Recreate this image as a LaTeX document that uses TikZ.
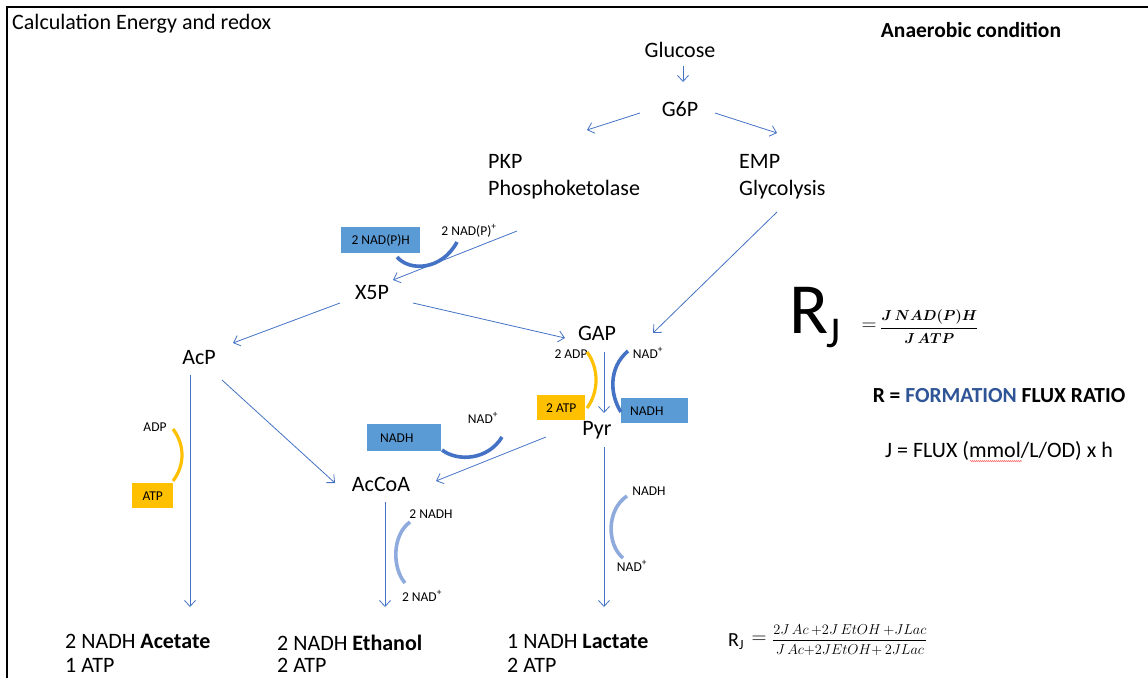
\documentclass[tikz,border=0pt]{standalone}
\usepackage{fontspec}
\setmainfont{Carlito}
\usepackage{amsmath}
\usetikzlibrary{arrows.meta,decorations.pathmorphing}
\definecolor{arrowblue}{HTML}{4472C4}
\definecolor{boxblue}{HTML}{5B9BD5}
\definecolor{arcdark}{HTML}{4472C4}
\definecolor{arclight}{HTML}{8FAADC}
\definecolor{yel}{HTML}{FFC000}
\definecolor{formblue}{HTML}{2F5597}
\begin{document}
\begin{tikzpicture}[x=1pt,y=-1pt,
  lbl/.style={font=\fontsize{22}{26}\selectfont, inner sep=0pt, anchor=base},
  sm/.style={font=\fontsize{13.5}{16}\selectfont, inner sep=0pt, anchor=base},
  arr/.style={draw=arrowblue, line width=0.8pt, -{Straight Barb[length=6pt,width=11pt,line width=0.8pt]}},
  bluebox/.style={fill=boxblue, inner ysep=0pt, anchor=north west, font=\fontsize{13.5}{16}\selectfont},
  yelbox/.style={fill=yel, inner ysep=0pt, anchor=north west, font=\fontsize{13.5}{16}\selectfont},
  darc/.style={draw=arcdark, line width=3.6pt},
  larc/.style={draw=arclight, line width=3.6pt},
  yarc/.style={draw=yel, line width=3.2pt},
  boldtxt/.style={font=\bfseries\fontsize{21.5}{25}\selectfont, inner sep=0pt, anchor=base},
  plain/.style={font=\fontsize{22}{25}\selectfont, inner sep=0pt, anchor=base}
]
\useasboundingbox (0,0) rectangle (1148,678);
\draw[line width=2pt] (7,678) -- (7,7) -- (1149,7);

% headings
\node[lbl, anchor=base west] (title) at (12,29) {Calculation Energy and redox};
\node[boldtxt] (anaer) at (971,37) {Anaerobic condition};

% metabolites
\node[lbl] (glucose) at (680,57) {Glucose};
\node[lbl] (g6p) at (680,116) {G6P};
\node[lbl, anchor=base west] (pkp) at (488,168) {PKP};
\node[lbl, anchor=base west] (pkp2) at (488,195) {Phosphoketolase};
\node[lbl, anchor=base west] (emp) at (739,168) {EMP};
\node[lbl, anchor=base west] (emp2) at (739,195) {Glycolysis};
\node[lbl] (x5p) at (372,299) {X5P};
\node[lbl] (gap) at (597,340) {GAP};
\node[lbl] (acp) at (199,364) {AcP};
\node[lbl] (pyr) at (597,435) {Pyr};
\node[lbl] (accoa) at (381,491) {AcCoA};

% products
\node[lbl, anchor=base west] (ac) at (65,648) {2 NADH \textbf{Acetate}};
\node[lbl, anchor=base west] (ac2) at (65,672) {1 ATP};
\node[lbl, anchor=base west] (etoh) at (277,650) {2 NADH \textbf{Ethanol}};
\node[lbl, anchor=base west] (etoh2) at (277,672) {2 ATP};
\node[lbl, anchor=base west] (lac) at (507,648) {1 NADH \textbf{Lactate}};
\node[lbl, anchor=base west] (lac2) at (507,672) {2 ATP};

% arrow end points
\coordinate (a1s) at (683,66);  \coordinate (a1e) at (683,82);
\coordinate (a2s) at (640,113); \coordinate (a2e) at (587,130);
\coordinate (a3s) at (715,113); \coordinate (a3e) at (777,133);
\coordinate (a4s) at (517,231); \coordinate (a4e) at (393,280);
\coordinate (a5s) at (777,212); \coordinate (a5e) at (653,333);
\coordinate (a6s) at (340,303); \coordinate (a6e) at (233,343);
\coordinate (a7s) at (413,303); \coordinate (a7e) at (565,338);
\coordinate (a8s) at (190,375); \coordinate (a8e) at (190,607);
\coordinate (a9s) at (222,380); \coordinate (a9e) at (335,483);
\coordinate (a10s) at (604,352); \coordinate (a10e) at (604,413);
\coordinate (a11s) at (546,437); \coordinate (a11e) at (436,481);
\coordinate (a12s) at (385,502); \coordinate (a12e) at (385,607);
\coordinate (a13s) at (604,447); \coordinate (a13e) at (604,607);
\foreach \i in {1,...,13} {\draw[arr] (a\i s) -- (a\i e);}

% cofactor boxes
\node[bluebox, minimum width=79pt, minimum height=26pt] (nadph) at (341,227) {2 NAD(P)H};
\node[yelbox, minimum width=48pt, minimum height=25pt] (atp2) at (537,395) {2 ATP};
\node[bluebox, inner xsep=9pt, text width=49pt, align=left, minimum height=25pt] (nadhgap) at (621,398) {NADH};
\node[bluebox, inner xsep=13pt, text width=48pt, align=left, minimum height=27pt] (nadhpyr) at (367,424) {NADH};
\node[yelbox, minimum width=41pt, minimum height=25pt] (atp) at (132,483) {ATP};

% cofactor labels
\node[sm] (nadpp) at (469,235) {2 NAD(P)\textsuperscript{+}};
\node[sm] (adp2) at (571,358) {2 ADP};
\node[sm] (nadgap) at (648,358) {NAD\textsuperscript{+}};
\node[sm] (nadpyr) at (483,423) {NAD\textsuperscript{+}};
\node[sm] (adp) at (155,431) {ADP};
\node[sm] (nadh2) at (431,518) {2 NADH};
\node[sm] (nad2) at (422,601) {2 NAD\textsuperscript{+}};
\node[sm] (nadhlac) at (649,495) {NADH};
\node[sm] (nadlac) at (632,571) {NAD\textsuperscript{+}};

% cofactor arcs
\draw[darc] (397,257) .. controls (410,272) and (442,270) .. (457,242);
\draw[yarc] (173,429) .. controls (185,445) and (185,465) .. (173,481);
\draw[yarc] (587,352) .. controls (599,368) and (599,392) .. (587,408);
\draw[darc] (628,351) .. controls (608,368) and (610,395) .. (621,412);
\draw[darc] (442,450) .. controls (458,462) and (488,460) .. (502,437);
\draw[larc] (410,522) .. controls (392,535) and (392,568) .. (405,583);
\draw[larc] (627,496) .. controls (606,510) and (607,545) .. (623,558);

% ratio definitions
\node[font=\fontsize{72}{72}\selectfont, inner sep=0pt, anchor=base west] (rj) at (789,333) {R};
\node[font=\fontsize{44}{44}\selectfont, inner sep=0pt, anchor=base west] (rjsub) at (826,347) {J};
\node[font=\fontsize{20}{20}\selectfont, inner sep=0pt] (eq1) at (869,327) {$=$};
\node[font=\fontsize{14}{18}\selectfont, inner sep=0pt, anchor=west] (frac1) at (880,327) {$\dfrac{\boldsymbol{J\,NAD(P)H}\rule[-5pt]{0pt}{5pt}}{\rule{0pt}{14pt}\boldsymbol{J\,ATP}}$};
\node[boldtxt] (rdef) at (999,402) {R = \textcolor{formblue}{FORMATION} FLUX RATIO};
\node[plain] (jdef) at (999,457) {J = FLUX (mmol/L/OD) x h};
\draw[red!75, line width=0.5pt, decorate, decoration={snake, amplitude=0.5pt, segment length=2pt}] (970,461) -- (1022,461);

\node[font=\fontsize{20}{24}\selectfont, inner sep=0pt, anchor=base west] (rj2) at (728,646) {R\textsubscript{J}};
\node[font=\fontsize{20}{20}\selectfont, inner sep=0pt] (eq2) at (759,640) {$=$};
\node[font=\fontsize{15.5}{20}\selectfont, inner sep=0pt, anchor=west] (frac2) at (772,640) {$\dfrac{2J\,Ac\,{+}2J\,EtOH\,{+}JLac\rule[-3pt]{0pt}{3pt}}{\rule{0pt}{12.5pt}J\,Ac{+}2JEtOH{+}\,2JLac}$};
\end{tikzpicture}
\end{document}
